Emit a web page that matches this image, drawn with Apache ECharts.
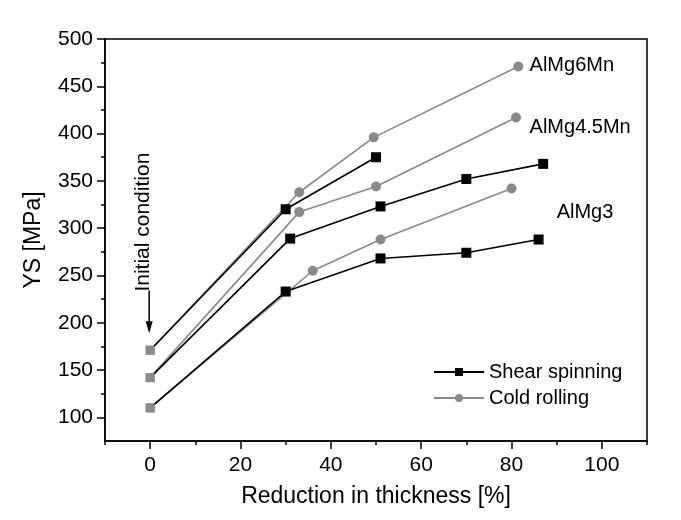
<!DOCTYPE html>
<html>
<head>
<meta charset="utf-8">
<script src="https://cdn.jsdelivr.net/npm/echarts@6/dist/echarts.min.js"></script>
<style>html,body{margin:0;padding:0;background:#fff}#c{width:681px;height:520px}</style>
</head>
<body>
<div id="c"></div>
<script>
// ---- data ----
const xMajorTicks = [0, 20, 40, 60, 80, 100];
const xMinorTicks = [-10, 10, 30, 50, 70, 90, 110];
const yMajorTicks = [100, 150, 200, 250, 300, 350, 400, 450, 500];
const yMinorTicks = [125, 175, 225, 275, 325, 375, 425, 475];

const ss6Mn_x = [0, 30, 50];
const ss6Mn_y = [171, 320, 375];
const ss45Mn_x = [0, 31, 51, 70, 87];
const ss45Mn_y = [142, 289, 323, 352, 368];
const ss3_x = [0, 30, 51, 70, 86];
const ss3_y = [110, 233, 268, 274, 288];

const cr6Mn_x = [0, 33, 49.5, 81.5];
const cr6Mn_y = [171, 338, 396, 471];
const cr45Mn_x = [0, 33, 50, 81];
const cr45Mn_y = [142, 317, 344, 417];
const cr3_x = [0, 36, 51, 80];
const cr3_y = [110, 255, 288, 342];

const alloyNames = ['AlMg6Mn', 'AlMg4.5Mn', 'AlMg3'];
const alloyLabelX = [84, 84, 90];
const alloyLabelY = [472, 406, 317];
const seriesNames = ['Shear spinning', 'Cold rolling'];

// ---- build ----
const FONT = 'Liberation Sans, Arial, sans-serif';
const BLACK = '#000000';
const GRAY = '#8a8a8a';
const INIT = '#8c8c8c';

function pts(xs, ys) {
  return xs.map((x, i) => {
    if (i === 0) return { value: [x, ys[i]], symbol: 'rect', symbolSize: 9, itemStyle: { color: INIT } };
    return [x, ys[i]];
  });
}
function crSeries(xs, ys) {
  return {
    name: seriesNames[1], type: 'line', data: pts(xs, ys), symbol: 'circle', symbolSize: 10,
    itemStyle: { color: GRAY }, lineStyle: { color: GRAY, width: 1.6 }, z: 2, animation: false
  };
}
function ssSeries(xs, ys) {
  return {
    name: seriesNames[0], type: 'line', data: pts(xs, ys), symbol: 'rect', symbolSize: 10,
    itemStyle: { color: BLACK }, lineStyle: { color: BLACK, width: 1.6 }, z: 3, animation: false
  };
}

const chart = echarts.init(document.getElementById('c'), null, { renderer: 'canvas' });
const grid = { left: 105, right: 34, top: 39, bottom: 79, show: true, borderColor: '#000', borderWidth: 1.5, containLabel: false };
const axisBase = { type: 'value', splitLine: { show: false } };

chart.setOption({
  backgroundColor: '#fff',
  animation: false,
  grid: grid,
  textStyle: { fontFamily: FONT },
  legend: {
    data: seriesNames, orient: 'vertical', left: 428, top: 357, itemWidth: 50, itemHeight: 10,
    itemGap: 6, textStyle: { fontFamily: FONT, fontSize: 20, color: '#000' }
  },
  xAxis: [
    Object.assign({}, axisBase, {
      min: -10, max: 110, position: 'bottom',
      name: 'Reduction in thickness [%]', nameLocation: 'middle', nameGap: 44,
      nameTextStyle: { fontFamily: FONT, fontSize: 23, color: '#000' },
      axisLine: { show: true, onZero: false, lineStyle: { color: '#000', width: 1.5 } },
      axisTick: { show: true, inside: false, length: 8, customValues: xMajorTicks, lineStyle: { color: '#000', width: 1.5 } },
      axisLabel: { show: true, customValues: xMajorTicks, fontFamily: FONT, fontSize: 21, color: '#000', margin: 14 }
    }),
    Object.assign({}, axisBase, {
      min: -10, max: 110, position: 'bottom',
      axisLine: { show: false, onZero: false },
      axisTick: { show: true, inside: false, length: 4, customValues: xMinorTicks, lineStyle: { color: '#000', width: 1.5 } },
      axisLabel: { show: false }
    })
  ],
  yAxis: [
    Object.assign({}, axisBase, {
      min: 75, max: 500, position: 'left',
      name: 'YS [MPa]', nameLocation: 'middle', nameGap: 60,
      nameTextStyle: { fontFamily: FONT, fontSize: 23, color: '#000' },
      axisLine: { show: true, onZero: false, lineStyle: { color: '#000', width: 1.5 } },
      axisTick: { show: true, inside: false, length: 8, customValues: yMajorTicks, lineStyle: { color: '#000', width: 1.5 } },
      axisLabel: { show: true, customValues: yMajorTicks, fontFamily: FONT, fontSize: 21, color: '#000', margin: 12 }
    }),
    Object.assign({}, axisBase, {
      min: 75, max: 500, position: 'left',
      axisLine: { show: false, onZero: false },
      axisTick: { show: true, inside: false, length: 4, customValues: yMinorTicks, lineStyle: { color: '#000', width: 1.5 } },
      axisLabel: { show: false }
    })
  ],
  series: [
    crSeries(cr6Mn_x, cr6Mn_y),
    crSeries(cr45Mn_x, cr45Mn_y),
    crSeries(cr3_x, cr3_y),
    ssSeries(ss6Mn_x, ss6Mn_y),
    ssSeries(ss45Mn_x, ss45Mn_y),
    ssSeries(ss3_x, ss3_y)
  ]
});

// annotations placed through the axes
const toPx = (x, y) => chart.convertToPixel({ xAxisIndex: 0, yAxisIndex: 0 }, [x, y]);
const g = [];
alloyNames.forEach((n, i) => {
  const p = toPx(alloyLabelX[i], alloyLabelY[i]);
  g.push({ type: 'text', x: p[0], y: p[1], style: { text: n, font: '20px ' + FONT, fill: '#000', textAlign: 'left', textVerticalAlign: 'middle' }, z: 10 });
});
const aTop = toPx(0, 234), aTip = toPx(0, 189);
const ax = aTop[0] - 1;
g.push({ type: 'line', shape: { x1: ax, y1: aTop[1], x2: ax, y2: aTip[1] - 6 }, style: { stroke: '#000', lineWidth: 1.5 }, z: 10 });
g.push({ type: 'polygon', shape: { points: [[ax - 3.5, aTip[1] - 12], [ax + 3.5, aTip[1] - 12], [ax, aTip[1]]] }, style: { fill: '#000' }, z: 10 });
g.push({ type: 'text', x: ax - 6, y: aTop[1] + 1, rotation: Math.PI / 2, style: { text: 'Initial condition', font: '21px ' + FONT, fill: '#000', textAlign: 'left', textVerticalAlign: 'middle' }, z: 10 });
chart.setOption({ graphic: g });
</script>
</body>
</html>
